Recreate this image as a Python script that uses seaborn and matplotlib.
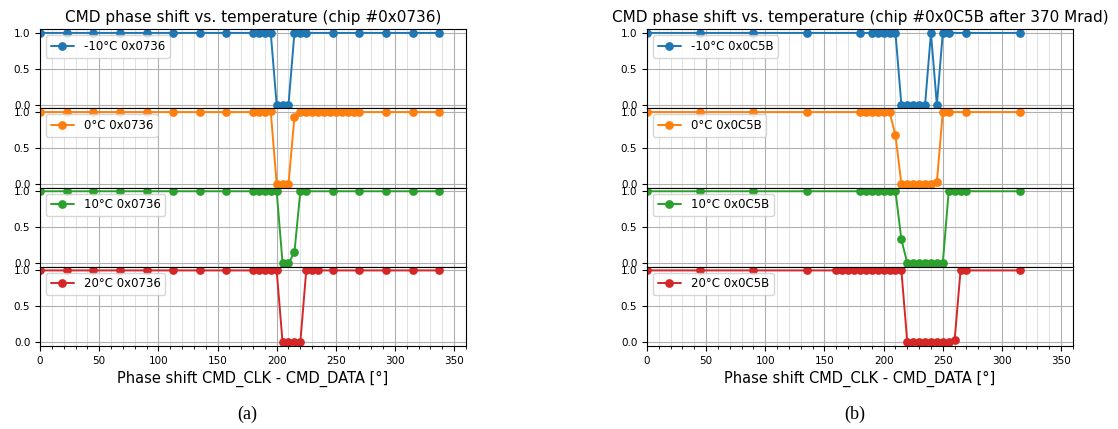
import matplotlib
matplotlib.use("Agg")
import matplotlib.pyplot as plt
from matplotlib.ticker import MultipleLocator, FormatStrFormatter
import seaborn as sns

# ---------------- data: chip 0x0736 ----------------
a_m10_x = [0, 22.5, 45, 67.5, 90, 112.5, 135, 157.5, 180, 185, 190, 195, 200, 205, 210,
           215, 220, 225, 247.5, 270, 292.5, 315, 337.5]
a_m10_y = [1, 1, 1, 1, 1, 1, 1, 1, 1, 1, 1, 1, 0, 0, 0, 1, 1, 1, 1, 1, 1, 1, 1]

a_0_x = [0, 22.5, 45, 67.5, 90, 112.5, 135, 157.5, 180, 185, 190, 195, 200, 205, 210,
         215, 220, 225, 230, 235, 240, 245, 250, 255, 260, 265, 270, 292.5, 315, 337.5]
a_0_y = [1, 1, 1, 1, 1, 1, 1, 1, 1, 1, 1, 1.01, 0, 0, 0,
         0.93, 1, 1, 1, 1, 1, 1, 1, 1, 1, 1, 1, 1, 1, 1]

a_10_x = [0, 22.5, 45, 67.5, 90, 112.5, 135, 157.5, 180, 185, 190, 195, 200, 205, 210,
          215, 220, 225, 247.5, 270, 292.5, 315, 337.5]
a_10_y = [1, 1, 1, 1, 1, 1, 1, 1, 1, 1, 1, 1, 1, 0, 0, 0.15, 1, 1, 1, 1, 1, 1, 1]

a_20_x = [0, 22.5, 45, 67.5, 90, 112.5, 135, 157.5, 180, 185, 190, 195, 200, 205, 210,
          215, 220, 225, 230, 235, 247.5, 270, 292.5, 315, 337.5]
a_20_y = [1, 1, 1, 1, 1, 1, 1, 1, 1, 1, 1, 1, 1, 0, 0, 0, 0, 1, 1, 1, 1, 1, 1, 1, 1]

# ---------------- data: chip 0x0C5B after 370 Mrad ----------------
b_m10_x = [0, 45, 90, 135, 180, 190, 195, 200, 205, 210, 215, 220, 225, 230, 235,
           240, 245, 250, 255, 270, 315]
b_m10_y = [1, 1, 1, 1, 1, 1, 1, 1, 1, 1, 0, 0, 0, 0, 0, 1, 0, 1, 1, 1, 1]

b_0_x = [0, 45, 90, 135, 180, 185, 190, 195, 200, 205, 210, 215, 220, 225, 230, 235,
         240, 245, 250, 255, 270, 315]
b_0_y = [1, 1, 1, 1, 1, 1, 1, 1, 1, 1, 0.68, 0, 0, 0, 0, 0, 0, 0.03, 1, 1, 1, 1]

b_10_x = [0, 45, 90, 135, 180, 185, 190, 195, 200, 205, 210, 215, 220, 225, 230, 235,
          240, 245, 250, 255, 260, 265, 270, 315]
b_10_y = [1, 1, 1, 1, 1, 1, 1, 1, 1, 1, 1, 0.33, 0, 0, 0, 0, 0, 0, 0, 1, 1, 1, 1, 1]

b_20_x = [0, 45, 90, 135, 160, 165, 170, 175, 180, 185, 190, 195, 200, 205, 210, 215,
          220, 225, 230, 235, 240, 245, 250, 255, 260, 265, 270, 315]
b_20_y = [1, 1, 1, 1, 1, 1, 1, 1, 1, 1, 1, 1, 1, 1, 1, 1,
          0, 0, 0, 0, 0, 0, 0, 0, 0.03, 1, 1, 1]

temps = ["-10°C", "0°C", "10°C", "20°C"]
titles = ["CMD phase shift vs. temperature (chip #0x0736)",
          "CMD phase shift vs. temperature (chip #0x0C5B after 370 Mrad)"]
chips = ["0x0736", "0x0C5B"]
xlabel = "Phase shift CMD_CLK - CMD_DATA [°]"
captions = ["(a)", "(b)"]

panels = [
    [(a_m10_x, a_m10_y), (a_0_x, a_0_y), (a_10_x, a_10_y), (a_20_x, a_20_y)],
    [(b_m10_x, b_m10_y), (b_0_x, b_0_y), (b_10_x, b_10_y), (b_20_x, b_20_y)],
]

sns.set_style("ticks")
plt.rcParams["font.family"] = ["DejaVu Sans"]
for k in ["text.color", "axes.labelcolor", "xtick.color", "ytick.color"]:
    plt.rcParams[k] = "black"
colors = sns.color_palette("tab10")[:4]

fig = plt.figure(figsize=(11.18, 4.29), dpi=100)
lefts = [0.0358, 0.5787]
width = 0.381
bottom, top = 0.1935, 0.9317

for p, series in enumerate(panels):
    gs = fig.add_gridspec(4, 1, left=lefts[p], right=lefts[p] + width,
                          bottom=bottom, top=top, hspace=0)
    axes = []
    for i, (xs, ys) in enumerate(series):
        ax = fig.add_subplot(gs[i], sharex=axes[0] if axes else None)
        axes.append(ax)
        sns.lineplot(x=xs, y=ys, ax=ax, marker="o", color=colors[i],
                     label=f"{temps[i]} {chips[p]}", linewidth=1.4,
                     markersize=6.3, markeredgewidth=0, sort=False)
        ax.set_xlim(0, 360)
        ax.set_ylim(-0.05, 1.05)
        ax.set_yticks([0.0, 0.5, 1.0])
        ax.yaxis.set_major_formatter(FormatStrFormatter("%.1f"))
        ax.xaxis.set_major_locator(MultipleLocator(50))
        ax.xaxis.set_minor_locator(MultipleLocator(10))
        ax.grid(which="major", color="#b0b0b0", linewidth=0.8)
        ax.grid(which="minor", axis="x", color="#dcdcdc", linewidth=0.6)
        ax.set_axisbelow(True)
        for s in ax.spines.values():
            s.set_visible(True)
            s.set_color("black")
            s.set_linewidth(0.8)
        ax.tick_params(axis="both", which="major", labelsize=7.5, length=3.5,
                       width=0.8, color="black", direction="out")
        ax.tick_params(axis="x", which="minor", length=2, width=0.6, color="black")
        ax.legend(loc="upper left", fontsize=8.5, frameon=True)
        if i < 3:
            ax.tick_params(axis="x", which="both", labelbottom=False, length=0)
        else:
            ax.set_xlabel(xlabel, fontsize=10.5)
        if i == 0:
            ax.set_title(titles[p], fontsize=11, pad=5)
    fig.text(lefts[p] + width / 2 - 0.005, 0.035, captions[p], ha="center",
             va="center", fontsize=13, family="Liberation Serif")

fig.savefig("out.png", dpi=100)
